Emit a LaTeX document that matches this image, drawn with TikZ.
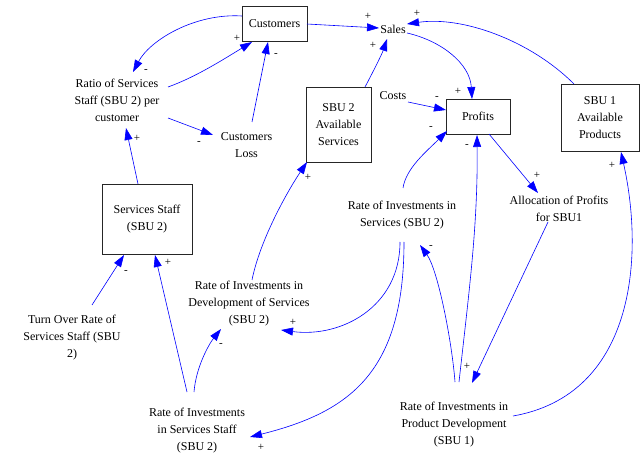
\documentclass[tikz,border=0pt]{standalone}
\usepackage{fontspec}
\setmainfont{Liberation Serif}
\usetikzlibrary{arrows.meta,calc}
\begin{document}
\begin{tikzpicture}[x=1pt,y=-1pt,
  lbl/.style={align=center,font=\fontsize{12}{17}\selectfont,inner sep=0pt},
  box/.style={draw=black!85,line width=0.9pt,align=center,font=\fontsize{12}{17}\selectfont,inner sep=0pt},
  sgn/.style={font=\fontsize{11}{11}\selectfont,inner sep=0pt},
  link/.style={draw=blue,line width=0.6pt,-{Triangle[length=12pt,width=8pt]}}]
\useasboundingbox (0,0) rectangle (642,454);
% boxes
\node[box,minimum width=65pt,minimum height=35pt] (cust) at (274.5,23.5) {Customers};
\node[box,minimum width=65pt,minimum height=75pt] (sbu2) at (338.5,124.5) {SBU 2\\Available\\Services};
\node[box,minimum width=64pt,minimum height=35pt] (profits) at (478,116.5) {Profits};
\node[box,minimum width=78pt,minimum height=67pt] (sbu1) at (600,117.5) {SBU 1\\Available\\Products};
\node[box,minimum width=90pt,minimum height=70pt] (staff) at (147,219) {Services Staff\\(SBU 2)};
% labels
\node[lbl] (sales) at (393,29) {Sales};
\node[lbl] (costs) at (393,96) {Costs};
\node[lbl] (ratio) at (117,100) {Ratio of Services\\Staff (SBU 2) per\\customer};
\node[lbl] (loss) at (246.5,145) {Customers\\Loss};
\node[lbl] (invserv) at (402,215.5) {Rate of Investments in\\Services (SBU 2)};
\node[lbl] (alloc) at (559,209) {Allocation of Profits\\for SBU1};
\node[lbl] (devserv) at (249,304) {Rate of Investments in\\Development of Services\\(SBU 2)};
\node[lbl] (turnover) at (72,338) {Turn Over Rate of\\Services Staff (SBU\\2)};
\node[lbl] (staffinv) at (197,430.5) {Rate of Investments\\in Services Staff\\(SBU 2)};
\node[lbl] (proddev) at (454,424.5) {Rate of Investments in\\Product Development\\(SBU 1)};
% links
\draw[link] ($(cust.center)+(-32.5,-7.5)$) .. controls +(-47,-3) and +(17,-32) .. ($(ratio.center)+(16,-28)$);
\draw[link] ($(ratio.center)+(51,-13)$) .. controls +(28,-10) and +(-28,17) .. ($(cust.center)+(-22.5,18.5)$);
\draw[link] ($(ratio.center)+(51,18)$) -- ($(loss.center)+(-33.5,-10)$);
\draw[link] ($(loss.center)+(5.5,-23)$) -- ($(cust.center)+(-6.5,18.5)$);
\draw[link] ($(cust.center)+(32.5,0.5)$) -- ($(sales.center)+(-14,-1)$);
\draw[link] ($(sbu2.center)+(26.5,-37.5)$) .. controls +(8,-15) and +(-5,15) .. ($(sales.center)+(-6,10)$);
\draw[link] ($(sbu1.center)+(-26,-33.5)$) .. controls +(-44,-44) and +(55,-8) .. ($(sales.center)+(14,-5)$);
\draw[link] ($(sales.center)+(14,4)$) .. controls +(35,8) and +(-2,-35) .. ($(profits.center)+(-6,-17.5)$);
\draw[link] ($(costs.center)+(15,6)$) -- ($(profits.center)+(-32,-6.5)$);
\draw[link] ($(invserv.center)+(1,-27.5)$) .. controls +(3,-20) and +(-20,20) .. ($(profits.center)+(-31,14.5)$);
\draw[link] ($(proddev.center)+(5,-42.5)$) .. controls +(10,-90) and +(1,90) .. ($(profits.center)+(-1,18.5)$);
\draw[link] ($(profits.center)+(11,17.5)$) -- ($(alloc.center)+(-21,-16)$);
\draw[link] ($(alloc.center)+(-11,13)$) -- ($(proddev.center)+(18,-41.5)$);
\draw[link] ($(proddev.center)+(59,-8.5)$) .. controls +(120,-21) and +(24,108) .. ($(sbu1.center)+(21,34.5)$);
\draw[link] ($(invserv.center)+(-2,26.5)$) .. controls +(0,65) and +(60,8) .. ($(devserv.center)+(32,26)$);
\draw[link] ($(invserv.center)+(2,26.5)$) .. controls +(0,130) and +(100,-25) .. ($(staffinv.center)+(53,6.5)$);
\draw[link] ($(devserv.center)+(3,-24)$) .. controls +(8,-40) and +(-20,30) .. ($(sbu2.center)+(-31.5,37.5)$);
\draw[link] ($(staffinv.center)+(-3,-38.5)$) .. controls +(2,-25) and +(-12,15) .. ($(devserv.center)+(-28,25)$);
\draw[link] ($(staffinv.center)+(-10,-38.5)$) -- ($(staff.center)+(8,36)$);
\draw[link] ($(turnover.center)+(20,-33)$) -- ($(staff.center)+(-23,36)$);
\draw[link] ($(staff.center)+(-9,-35)$) -- ($(ratio.center)+(9,28)$);
\draw[link] ($(proddev.center)+(1,-42.5)$) .. controls +(-3,-40) and +(18,25) .. ($(invserv.center)+(18,29.5)$);
% signs
\node[sgn] (s1) at (146,71) {-};
\node[sgn] (s2) at (237,38) {+};
\node[sgn] (s3) at (199,143) {-};
\node[sgn] (s4) at (276,55) {-};
\node[sgn] (s5) at (368,16) {+};
\node[sgn] (s6) at (373,45) {+};
\node[sgn] (s7) at (417,13) {+};
\node[sgn] (s8) at (458,91) {+};
\node[sgn] (s9) at (437,98) {-};
\node[sgn] (s10) at (431,128) {-};
\node[sgn] (s11) at (467,146) {-};
\node[sgn] (s12) at (537,175) {+};
\node[sgn] (s13) at (467,366) {+};
\node[sgn] (s14) at (612,165) {+};
\node[sgn] (s15) at (293,322) {+};
\node[sgn] (s16) at (261,447) {+};
\node[sgn] (s17) at (308,177) {+};
\node[sgn] (s18) at (221,345) {-};
\node[sgn] (s19) at (168,262) {+};
\node[sgn] (s20) at (126,272) {-};
\node[sgn] (s21) at (137,138) {+};
\node[sgn] (s22) at (431,247) {-};
\end{tikzpicture}
\end{document}
